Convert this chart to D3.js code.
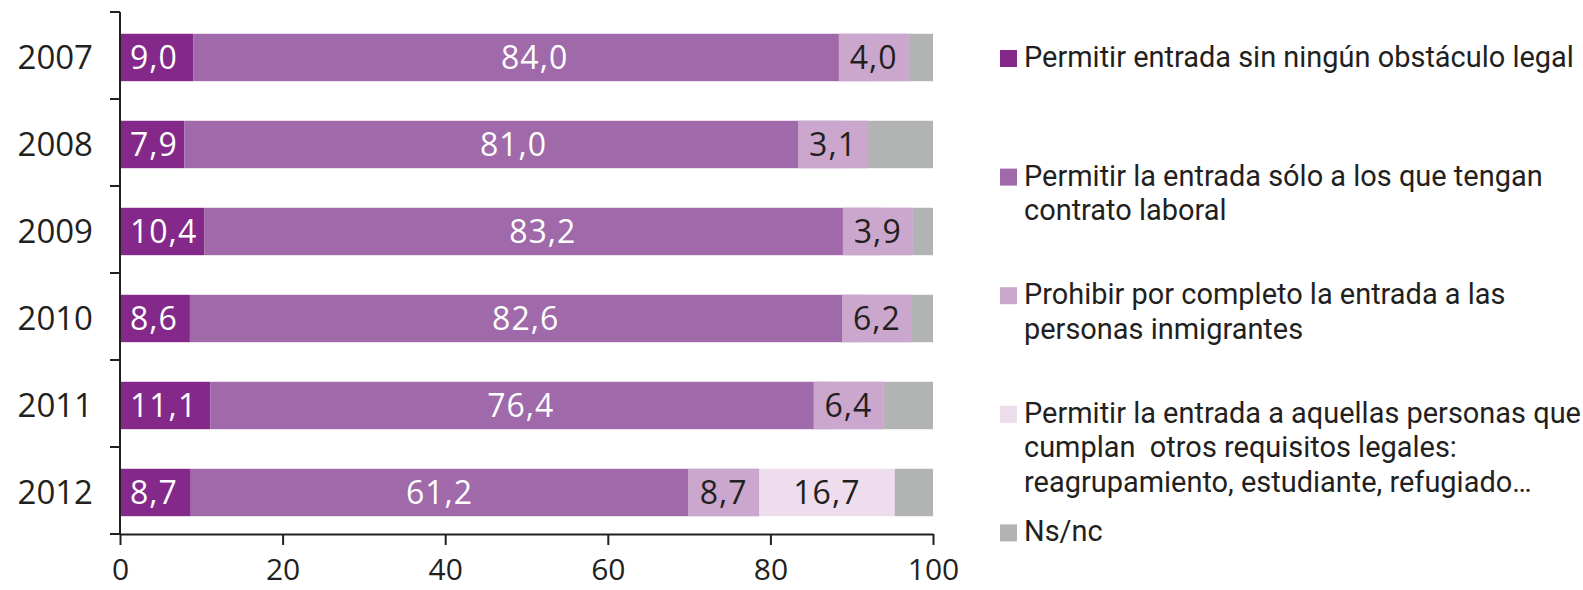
<!DOCTYPE html>
<html>
<head>
<meta charset="utf-8">
<script src="https://cdn.jsdelivr.net/npm/d3@7"></script>
<style>
	body { margin: 0; background: #fff; }
	svg text { font-family: 'Open Sans', sans-serif; }
	.legend text { font-family: Roboto, 'DejaVu Sans Condensed', sans-serif; white-space: pre; }
</style>
</head>
<body>
<div id="chart"></div>
<script>
// data
const years = ['2007', '2008', '2009', '2010', '2011', '2012']
const sinObstaculo = [9.0, 7.9, 10.4, 8.6, 11.1, 8.7]
const conContrato = [84.0, 81.0, 83.2, 82.6, 76.4, 61.2]
const prohibir = [4.0, 3.1, 3.9, 6.2, 6.4, 8.7]
const otrosRequisitos = [0, 0, 0, 0, 0, 16.7]
const nsnc = [3.0, 8.0, 2.5, 2.6, 6.1, 4.7]
const xTicks = [0, 20, 40, 60, 80, 100]

const seriesKeys = ['sin', 'contrato', 'prohibir', 'otros', 'nsnc']
const legendLabels = [
	['Permitir entrada sin ningún obstáculo legal'],
	['Permitir la entrada sólo a los que tengan', 'contrato laboral'],
	['Prohibir por completo la entrada a las', 'personas inmigrantes'],
	['Permitir la entrada a aquellas personas que', 'cumplan  otros requisitos legales:', 'reagrupamiento, estudiante, refugiado…'],
	['Ns/nc'],
]

const W = 1583, H = 590
const margin = { top: 12, left: 120, bottom: 56 }
const plotRight = 933
const legendFirstLineWidth = 550 // the legend font is condensed, fit ours to the same width

const color = d3.scaleOrdinal()
	.domain(seriesKeys)
	.range(['#84288a', '#a069aa', '#cba7ce', '#eddded', '#b2b4b4'])
const labelColor = { sin: '#fff', contrato: '#fff', prohibir: '#231f20', otros: '#231f20' }

const table = years.map((y, i) => ({
	year: y,
	sin: sinObstaculo[i],
	contrato: conContrato[i],
	prohibir: prohibir[i],
	otros: otrosRequisitos[i],
	nsnc: nsnc[i],
}))

const stacked = d3.stack().keys(seriesKeys)(table)

const x = d3.scaleLinear().domain([0, 100]).range([margin.left, plotRight])
const y = d3.scaleBand()
	.domain(years)
	.range([margin.top, H - margin.bottom])
	.paddingInner(0.455)
	.paddingOuter(0.2275)
	.align(0.55)

const svg = d3.select('#chart').append('svg').attr('width', W).attr('height', H)

// bars
const layers = svg.append('g').selectAll('g')
	.data(stacked)
	.join('g')
	.attr('fill', (d) => color(d.key))

layers.selectAll('rect')
	.data((d) => d)
	.join('rect')
	.attr('x', (d) => x(d[0]))
	.attr('y', (d) => y(d.data.year))
	.attr('width', (d) => x(d[1]) - x(d[0]))
	.attr('height', y.bandwidth())

// value labels
const labels = svg.append('g')
stacked.forEach((layer) => {
	if (layer.key === 'nsnc') return
	layer.forEach((d) => {
		const v = d[1] - d[0]
		if (v <= 0) return
		const first = layer.key === 'sin'
		const g = labels.append('g')
		const t = g.append('text')
			.attr('x', first ? x(d[0]) + 10 : (x(d[0]) + x(d[1])) / 2)
			.attr('y', y(d.data.year) + y.bandwidth() / 2)
			.attr('dy', '0.36em')
			.attr('text-anchor', first ? 'start' : 'middle')
			.style('font-size', '32px')
			.style('letter-spacing', '1px')
			.attr('fill', labelColor[layer.key])
			.text(d3.format('.1f')(v).replace('.', ','))
		// the narrow segments get a box behind the number, ending where the segment ends
		if (layer.key === 'prohibir') {
			const bb = t.node().getBBox()
			const bw = Math.max(bb.width + 22, x(d[1]) - x(d[0]))
			const bx = x(d[1]) - bw
			t.attr('x', bx + bw / 2)
			g.insert('rect', 'text')
				.attr('x', bx)
				.attr('y', y(d.data.year))
				.attr('width', bw)
				.attr('height', y.bandwidth())
				.attr('fill', color(layer.key))
		}
	})
})

// y axis: line with ticks between the bands
const yAxis = svg.append('g')
const plotH = H - margin.top - margin.bottom
yAxis.append('line')
	.attr('x1', margin.left).attr('x2', margin.left)
	.attr('y1', margin.top).attr('y2', H - margin.bottom)
	.attr('stroke', '#231f20').attr('stroke-width', 2)
yAxis.selectAll('.tick')
	.data(d3.range(years.length + 1))
	.join('line')
	.attr('x1', margin.left - 10).attr('x2', margin.left)
	.attr('y1', (i) => margin.top + (i * plotH) / years.length)
	.attr('y2', (i) => margin.top + (i * plotH) / years.length)
	.attr('stroke', '#231f20').attr('stroke-width', 2)
yAxis.selectAll('text')
	.data(years)
	.join('text')
	.attr('x', 93)
	.attr('y', (d) => y(d) + y.bandwidth() / 2)
	.attr('dy', '0.36em')
	.attr('text-anchor', 'end')
	.attr('fill', '#231f20')
	.style('font-size', '33px')
	.text((d) => d)

// x axis
const xAxis = svg.append('g')
	.attr('transform', 'translate(0,' + (H - margin.bottom) + ')')
	.call(d3.axisBottom(x).tickValues(xTicks).tickSize(11).tickPadding(14).tickSizeOuter(0))
xAxis.select('.domain').attr('stroke', '#231f20').attr('stroke-width', 2)
xAxis.selectAll('.tick line').attr('stroke', '#231f20').attr('stroke-width', 2)
xAxis.selectAll('.tick text')
	.attr('fill', '#231f20')
	.style('font-size', '30px')
	.style('font-family', "'Open Sans', sans-serif")

// legend
const legend = svg.append('g').attr('class', 'legend')
const legendItems = legend.selectAll('g')
	.data(seriesKeys)
	.join('g')
	.attr('transform', (d, i) => 'translate(1000,' + (67 + i * 118.6) + ')')
legendItems.append('rect')
	.attr('x', 0).attr('y', -17)
	.attr('width', 17).attr('height', 17)
	.attr('fill', (d) => color(d))
const legendTexts = []
legendItems.each(function (d, i) {
	const t = d3.select(this).append('text')
		.attr('fill', '#231f20')
		.style('font-size', '29px')
	legendLabels[i].forEach((line, j) => {
		t.append('tspan').attr('x', 0).attr('y', j * 34.5).text(line)
	})
	legendTexts.push(t)
})
const k = legendFirstLineWidth / legendTexts[0].select('tspan').node().getComputedTextLength()
legendTexts.forEach((t) => t.attr('transform', 'translate(24,0) scale(' + k + ',1)'))
</script>
</body>
</html>
